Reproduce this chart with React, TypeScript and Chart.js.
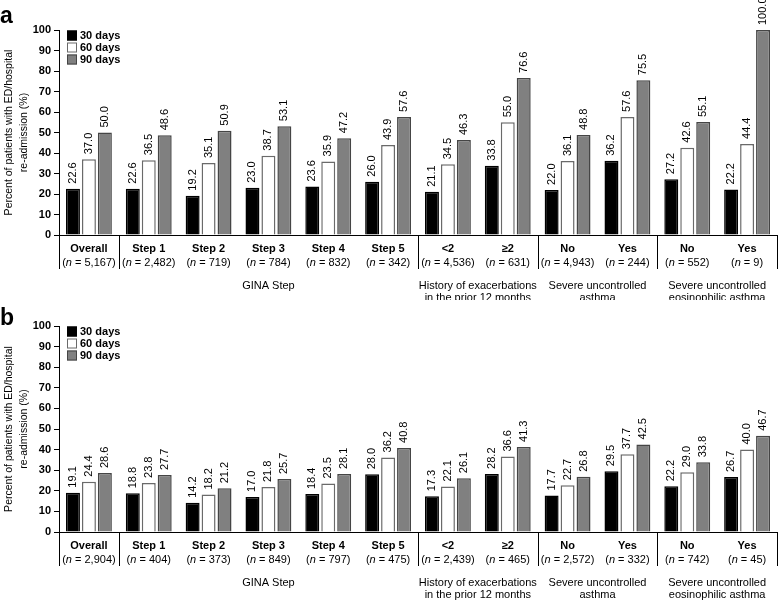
import React, { useEffect, useRef } from "react";
import { Chart, registerables } from "chart.js";

Chart.register(...registerables);

const FONT = "'Liberation Sans', Arial, Helvetica, sans-serif";

const categories = ["Overall", "Step 1", "Step 2", "Step 3", "Step 4", "Step 5", "<2", "≥2", "No", "Yes", "No", "Yes"];
const seriesNames = ["30 days", "60 days", "90 days"];
const yMin = 0;
const yMax = 100;
const yStep = 10;

// Panel a
const nA = ["5,167", "2,482", "719", "784", "832", "342", "4,536", "631", "4,943", "244", "552", "9"];
const a30 = [22.6, 22.6, 19.2, 23.0, 23.6, 26.0, 21.1, 33.8, 22.0, 36.2, 27.2, 22.2];
const a60 = [37.0, 36.5, 35.1, 38.7, 35.9, 43.9, 34.5, 55.0, 36.1, 57.6, 42.6, 44.4];
const a90 = [50.0, 48.6, 50.9, 53.1, 47.2, 57.6, 46.3, 76.6, 48.8, 75.5, 55.1, 100.0];

// Panel b
const nB = ["2,904", "404", "373", "849", "797", "475", "2,439", "465", "2,572", "332", "742", "45"];
const b30 = [19.1, 18.8, 14.2, 17.0, 18.4, 28.0, 17.3, 28.2, 17.7, 29.5, 22.2, 26.7];
const b60 = [24.4, 23.8, 18.2, 21.8, 23.5, 36.2, 22.1, 36.6, 22.7, 37.7, 29.0, 40.0];
const b90 = [28.6, 27.7, 21.2, 25.7, 28.1, 40.8, 26.1, 41.3, 26.8, 42.5, 33.8, 46.7];

const groups = [
  { from: 1, to: 5, lines: ["GINA Step"] },
  { from: 6, to: 7, lines: ["History of exacerbations", "in the prior 12 months"] },
  { from: 8, to: 9, lines: ["Severe uncontrolled", "asthma"] },
  { from: 10, to: 11, lines: ["Severe uncontrolled", "eosinophilic asthma"] },
];
const dividerAfter = [0, 5, 7, 9];

const yTitle = ["Percent of patients with ED/hospital", "re-admission (%)"];

const fills = ["#000000", "#ffffff", "#808080"];
const borders = ["#000000", "#6a6a6a", "#454545"];

function drawNLine(ctx: CanvasRenderingContext2D, cx: number, y: number, n: string) {
  const f = `11px ${FONT}`;
  const fi = `italic 11px ${FONT}`;
  const p1 = "(";
  const p2 = "n";
  const p3 = ` = ${n})`;
  ctx.font = f;
  const w1 = ctx.measureText(p1).width;
  const w3 = ctx.measureText(p3).width;
  ctx.font = fi;
  const w2 = ctx.measureText(p2).width;
  let x = cx - (w1 + w2 + w3) / 2;
  ctx.textAlign = "left";
  ctx.font = f;
  ctx.fillText(p1, x, y);
  x += w1;
  ctx.font = fi;
  ctx.fillText(p2, x, y);
  x += w2;
  ctx.font = f;
  ctx.fillText(p3, x, y);
}

type PanelProps = {
  letter: string;
  d30: number[];
  d60: number[];
  d90: number[];
  nLabels: string[];
  top: number;
  height: number;
  padTop: number;
  bottomSpace: number;
};

function Panel({ letter, d30, d60, d90, nLabels, top, height, padTop, bottomSpace }: PanelProps) {
  const ref = useRef<HTMLCanvasElement>(null);

  useEffect(() => {
    if (!ref.current) return;
    const overlay = {
      id: "overlay" + letter,
      afterDraw(chart: any) {
        const ctx: CanvasRenderingContext2D = chart.ctx;
        const { left, right, top: t, bottom } = chart.chartArea;
        const xs = chart.scales.x;
        ctx.save();
        ctx.fillStyle = "#000";
        ctx.strokeStyle = "#000";

        // value labels
        ctx.font = `11px ${FONT}`;
        chart.data.datasets.forEach((ds: any, di: number) => {
          const meta = chart.getDatasetMeta(di);
          meta.data.forEach((el: any, i: number) => {
            const v = ds.data[i] as number;
            ctx.save();
            ctx.translate(el.x, el.y - 5);
            ctx.rotate(-Math.PI / 2);
            ctx.textAlign = "left";
            ctx.textBaseline = "middle";
            ctx.fillText(v.toFixed(1), 0, 0);
            ctx.restore();
          });
        });

        // legend
        ctx.font = `bold 11px ${FONT}`;
        ctx.textBaseline = "middle";
        ctx.textAlign = "left";
        chart.data.datasets.forEach((ds: any, di: number) => {
          const cy = t + 5.5 + di * 12;
          const bx = left + 8;
          ctx.fillStyle = ds.backgroundColor;
          ctx.fillRect(bx, cy - 5, 10, 10);
          ctx.strokeStyle = ds.borderColor;
          ctx.lineWidth = 1;
          ctx.strokeRect(bx + 0.5, cy - 4.5, 9, 9);
          ctx.fillStyle = "#000";
          ctx.fillText(ds.label, bx + 13, cy);
        });

        // category labels
        const step = xs.getPixelForValue(1) - xs.getPixelForValue(0);
        categories.forEach((c, i) => {
          const cx = xs.getPixelForValue(i);
          ctx.font = `bold 11px ${FONT}`;
          ctx.textAlign = "center";
          ctx.textBaseline = "middle";
          ctx.fillText(c, cx, bottom + 13.5);
          drawNLine(ctx, cx, bottom + 28, nLabels[i]);
        });

        // dividers
        ctx.strokeStyle = "#000";
        ctx.lineWidth = 1;
        const xsLines = [left, ...dividerAfter.map((i) => xs.getPixelForValue(i) + step / 2), right];
        xsLines.forEach((x) => {
          const px = Math.round(x) + 0.5;
          ctx.beginPath();
          ctx.moveTo(px, bottom);
          ctx.lineTo(px, bottom + 34);
          ctx.stroke();
        });

        // group labels
        ctx.font = `11px ${FONT}`;
        ctx.textAlign = "center";
        ctx.textBaseline = "middle";
        groups.forEach((g) => {
          const cx = (xs.getPixelForValue(g.from) + xs.getPixelForValue(g.to)) / 2;
          g.lines.forEach((ln, k) => {
            ctx.fillText(ln, cx, bottom + 51 + k * 12);
          });
        });

        // y title
        ctx.font = `10.5px ${FONT}`;
        const cy = (t + bottom) / 2;
        yTitle.forEach((ln, k) => {
          ctx.save();
          ctx.translate(9 + k * 15, cy);
          ctx.rotate(-Math.PI / 2);
          ctx.textAlign = "center";
          ctx.textBaseline = "middle";
          ctx.fillText(ln, 0, 0);
          ctx.restore();
        });

        // panel letter
        ctx.font = `bold 23px ${FONT}`;
        ctx.textAlign = "left";
        ctx.textBaseline = "alphabetic";
        ctx.fillText(letter, 0, letter === "a" ? 23 : 25);

        ctx.restore();
      },
    };

    const chart = new Chart(ref.current, {
      type: "bar",
      data: {
        labels: categories,
        datasets: [d30, d60, d90].map((d, i) => ({
          label: seriesNames[i],
          data: d,
          backgroundColor: fills[i],
          borderColor: borders[i],
          borderWidth: 1.5,
          categoryPercentage: 0.8,
          barPercentage: 0.875,
        })),
      },
      options: {
        responsive: false,
        animation: false,
        devicePixelRatio: 1,
        layout: { padding: { top: padTop, right: 1, left: 0, bottom: 0 } },
        plugins: { legend: { display: false }, tooltip: { enabled: false } },
        scales: {
          x: {
            grid: { display: false, drawTicks: false },
            border: { display: true, color: "#000", width: 1 },
            ticks: { display: false },
            afterFit: (s: any) => {
              s.height = bottomSpace;
            },
          },
          y: {
            min: yMin,
            max: yMax,
            ticks: {
              stepSize: yStep,
              color: "#000",
              font: { family: FONT, size: 11, weight: "bold" },
              padding: 3,
            },
            grid: { display: true, drawOnChartArea: false, drawTicks: true, tickLength: 5, color: "#000" },
            border: { display: true, color: "#000", width: 1 },
            afterFit: (s: any) => {
              s.width = 59;
            },
          },
        },
      },
      plugins: [overlay],
    } as any);
    return () => chart.destroy();
  }, []);

  return (
    <canvas
      ref={ref}
      width={778}
      height={height}
      style={{ position: "absolute", left: 0, top, width: 778, height, display: "block" }}
    />
  );
}

export default function App() {
  return (
    <div style={{ position: "absolute", left: 0, top: 0, width: 778, height: 602, background: "#fff", overflow: "hidden" }}>
      <Panel letter="a" d30={a30} d60={a60} d90={a90} nLabels={nA} top={0} height={300} padTop={30} bottomSpace={65} />
      <Panel letter="b" d30={b30} d60={b60} d90={b90} nLabels={nB} top={300} height={302} padTop={26} bottomSpace={70} />
    </div>
  );
}
